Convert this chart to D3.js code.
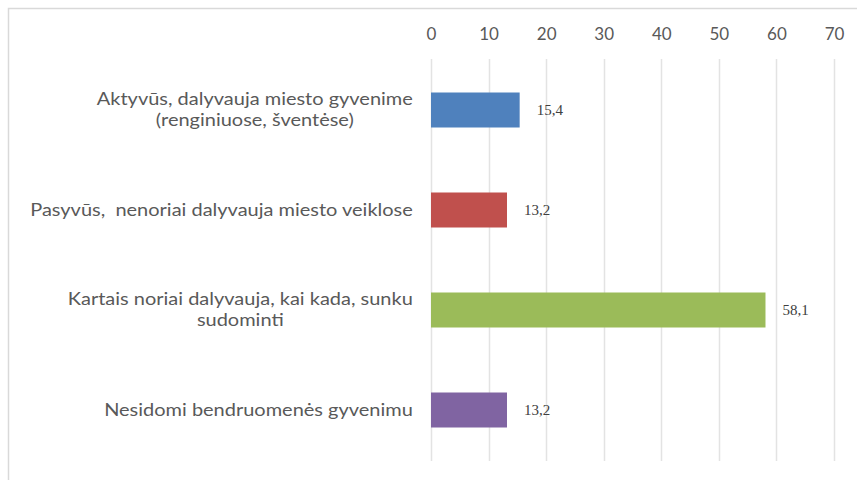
<!DOCTYPE html>
<html>
<head>
<meta charset="utf-8">
<script src="https://cdn.jsdelivr.net/npm/d3@7"></script>
<style>
  body { margin: 0; background: #fff; }
  text { white-space: pre; }
</style>
</head>
<body>
<div id="chart"></div>
<script>
var categories = [
  ["Aktyvūs, dalyvauja miesto gyvenime", "(renginiuose, šventėse)"],
  ["Pasyvūs,  nenoriai dalyvauja miesto veiklose"],
  ["Kartais noriai dalyvauja, kai kada, sunku", "sudominti"],
  ["Nesidomi bendruomenės gyvenimu"]
]
var values = [15.4, 13.2, 58.1, 13.2]
var valueLabels = ["15,4", "13,2", "58,1", "13,2"]
var colors = ["#4F81BD", "#C0504D", "#9BBB59", "#8064A2"]
var ticks = [0, 10, 20, 30, 40, 50, 60, 70]

var draw = function() {
  var width = 857, height = 480;
  var svg = d3.select("#chart").append("svg")
      .attr("width", width)
      .attr("height", height);

  // chart frame (runs off the right and bottom)
  svg.append("rect")
      .attr("x", 8.5).attr("y", 8.5)
      .attr("width", 900).attr("height", 500)
      .attr("fill", "none")
      .attr("stroke", "#d9d9d9")
      .attr("stroke-width", 1.5);

  var x = d3.scaleLinear().domain([0, 70]).range([431, 834]);
  var y = d3.scaleBand()
      .domain(d3.range(categories.length))
      .range([60, 460])
      .paddingInner(0.65)
      .paddingOuter(0.325);

  // gridlines
  svg.append("g").selectAll("line")
      .data(ticks)
      .enter().append("line")
      .attr("x1", function(d) { return Math.round(x(d)) + 0.5; })
      .attr("x2", function(d) { return Math.round(x(d)) + 0.5; })
      .attr("y1", 59).attr("y2", 461)
      .attr("stroke", "#e3e3e3")
      .attr("stroke-width", 1.5);

  // top axis labels
  var axis = d3.axisTop(x).tickValues(ticks).tickSize(0).tickPadding(0);
  var ax = svg.append("g")
      .attr("transform", "translate(0,40)")
      .call(axis);
  ax.select(".domain").remove();
  ax.selectAll("text")
      .style("font-family", "Lato")
      .style("font-size", "17px")
      .attr("fill", "#595959");

  // bars
  svg.append("g").selectAll("rect")
      .data(values)
      .enter().append("rect")
      .attr("x", x(0))
      .attr("y", function(d, i) { return y(i); })
      .attr("width", function(d) { return x(d) - x(0); })
      .attr("height", y.bandwidth())
      .attr("fill", function(d, i) { return colors[i]; });

  // value labels
  svg.append("g").selectAll("text")
      .data(values)
      .enter().append("text")
      .attr("x", function(d) { return x(d) + 17; })
      .attr("y", function(d, i) { return y(i) + y.bandwidth() / 2 + 5; })
      .text(function(d, i) { return valueLabels[i]; })
      .style("font-family", "Liberation Serif")
      .style("font-size", "15px")
      .attr("fill", "#404040");

  // category labels: centred blocks, right edge at 413, widest one reaching x=30
  var labelRight = 413, labelLeft = 30, lineGap = 21.5;
  var groups = categories.map(function(lines, i) {
    var cy = y(i) + y.bandwidth() / 2;
    var g = svg.append("g");
    var texts = g.selectAll("text")
        .data(lines)
        .enter().append("text")
        .attr("text-anchor", "middle")
        .attr("y", function(d, j) { return cy + 5.75 + (j - (lines.length - 1) / 2) * lineGap; })
        .text(function(d) { return d; })
        .style("font-family", "Lato")
        .style("font-size", "17.5px")
        .attr("fill", "#595959");
    var maxW = 0;
    texts.each(function() { maxW = Math.max(maxW, this.getComputedTextLength()); });
    texts.attr("x", -maxW / 2);
    return { g: g, w: maxW };
  });
  var stretch = (labelRight - labelLeft) / d3.max(groups, function(d) { return d.w; });
  groups.forEach(function(d) {
    d.g.attr("transform", "translate(" + labelRight + ",0) scale(" + stretch + ",1)");
  });
};
draw();
</script>
</body>
</html>
